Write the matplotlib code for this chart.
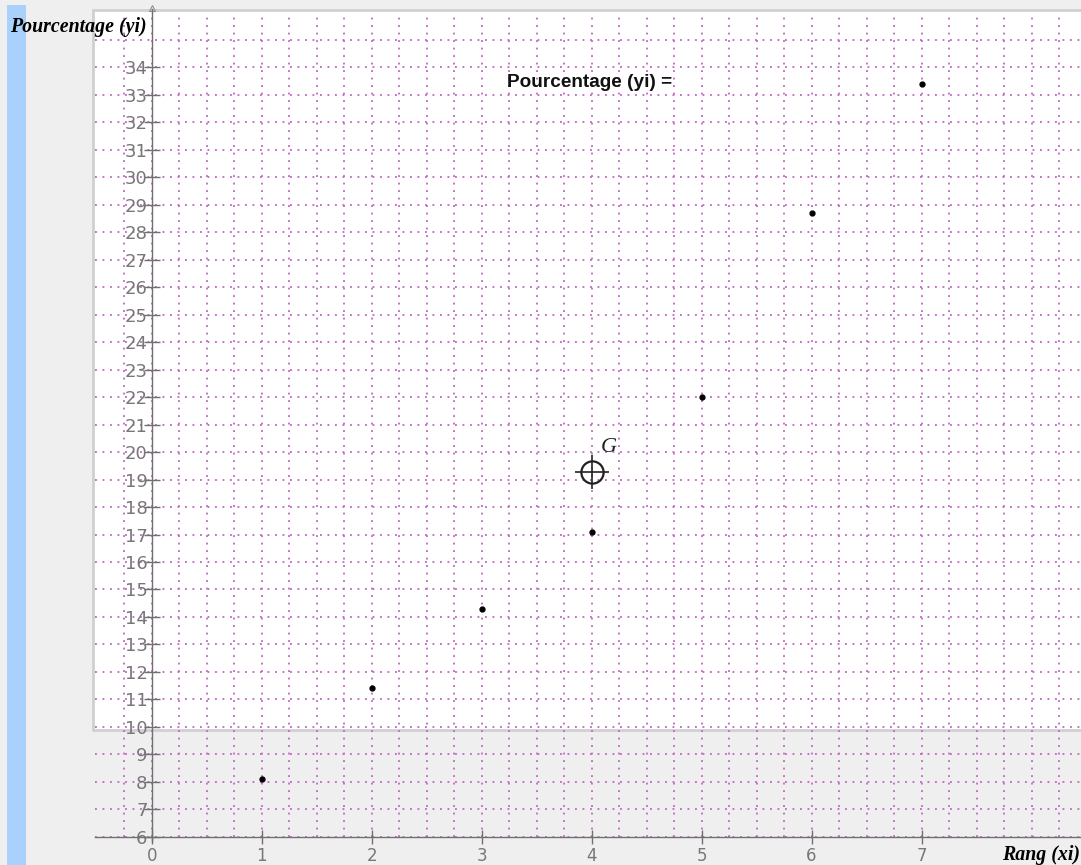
import numpy as np
import matplotlib
matplotlib.use("Agg")
import matplotlib.pyplot as plt
from matplotlib.patches import Rectangle

# data
rang = [1, 2, 3, 4, 5, 6, 7]
pourcentage = [8.1, 11.4, 14.3, 17.1, 22.0, 28.7, 33.4]
x_ticks = [0, 1, 2, 3, 4, 5, 6, 7]
y_ticks = list(range(6, 35))

W, H = 1081, 865
fig = plt.figure(figsize=(W / 100, H / 100), dpi=100)
fig.patch.set_facecolor("#efefef")

# panels of the window (pixel coords -> figure fraction)
def px_rect(x0, y0, x1, y1, **kw):
    r = Rectangle((x0 / W, 1 - y1 / H), (x1 - x0) / W, (y1 - y0) / H,
                  transform=fig.transFigure, **kw)
    fig.patches.append(r)

px_rect(7, 5, 26, 865, facecolor="#a9d1fb", edgecolor="none", zorder=-10)
px_rect(93, 10, 1085, 730, facecolor="white", edgecolor="#d0d0d0", linewidth=2, zorder=-10)

ax = fig.add_axes([0, 0, 1, 1])
ax.set_facecolor("none")
ax.set_xlim(-1.38, 8.45)
ax.set_ylim(4.98, 36.44)

# grid
grid_kw = dict(colors="#c46cc4", linestyles=(0, (1, 3.0)), linewidth=1.35, zorder=1)
ax.hlines(np.arange(6, 36), -0.52, 8.45, **grid_kw)
ax.vlines(np.arange(-0.25, 8.45, 0.25), 6, 36.0, **grid_kw)

# axes through the origin
for s in ["top", "right"]:
    ax.spines[s].set_visible(False)
ax.spines["left"].set_position(("data", 0))
ax.spines["bottom"].set_position(("data", 6))
ax.spines["left"].set_bounds(5.85, 36.1)
ax.spines["bottom"].set_bounds(-0.52, 8.45)
for s in ["left", "bottom"]:
    ax.spines[s].set_color("#707070")
    ax.spines[s].set_linewidth(1.0)
    ax.spines[s].set_zorder(2)

ax.set_xticks(x_ticks)
ax.set_yticks(y_ticks)
ax.tick_params(axis="x", direction="inout", length=10, width=1, color="#707070",
               labelcolor="#777777", labelsize=12, pad=2)
ax.tick_params(axis="y", direction="inout", length=12, width=1, color="#707070",
               labelcolor="#777777", labelsize=13, pad=-3)
for lab in ax.get_xticklabels() + ax.get_yticklabels():
    lab.set_family("DejaVu Sans")
    lab.set_zorder(3)

# arrow at the top of the y axis
ax.plot([0], [36.15], marker="^", markersize=4, markerfacecolor="none",
        markeredgecolor="#909090", markeredgewidth=0.8, clip_on=False)

# points
ax.plot(rang, pourcentage, "o", color="black", markersize=3.5, zorder=5)

# mean point G
gx = np.mean(rang)
gy = np.mean(pourcentage)
ax.plot([gx], [gy], marker="o", markersize=16, markerfacecolor="none",
        markeredgecolor="#222222", markeredgewidth=1.6, zorder=5)
ax.plot([gx], [gy], marker="+", markersize=24, markeredgecolor="#222222",
        markeredgewidth=1.2, zorder=5)
ax.text(gx + 0.08, gy + 0.55, "G", family="Liberation Serif", style="italic",
        fontsize=16, color="#222222", ha="left", va="bottom")

ax.text(3.98, 33.45, "Pourcentage (yi) =", family="Liberation Sans", weight="bold",
        fontsize=13.7, color="#111111", ha="center", va="center")

# axis titles
ax.text(10 / W, 1 - 27 / H, "Pourcentage (yi)", transform=fig.transFigure,
        family="Liberation Serif", weight="bold", style="italic", fontsize=14.3,
        ha="left", va="center")
ax.text(1080 / W, 1 - 855 / H, "Rang (xi)", transform=fig.transFigure,
        family="Liberation Serif", weight="bold", style="italic", fontsize=14.3,
        ha="right", va="center")

fig.savefig("out.png", dpi=100, facecolor=fig.get_facecolor())
